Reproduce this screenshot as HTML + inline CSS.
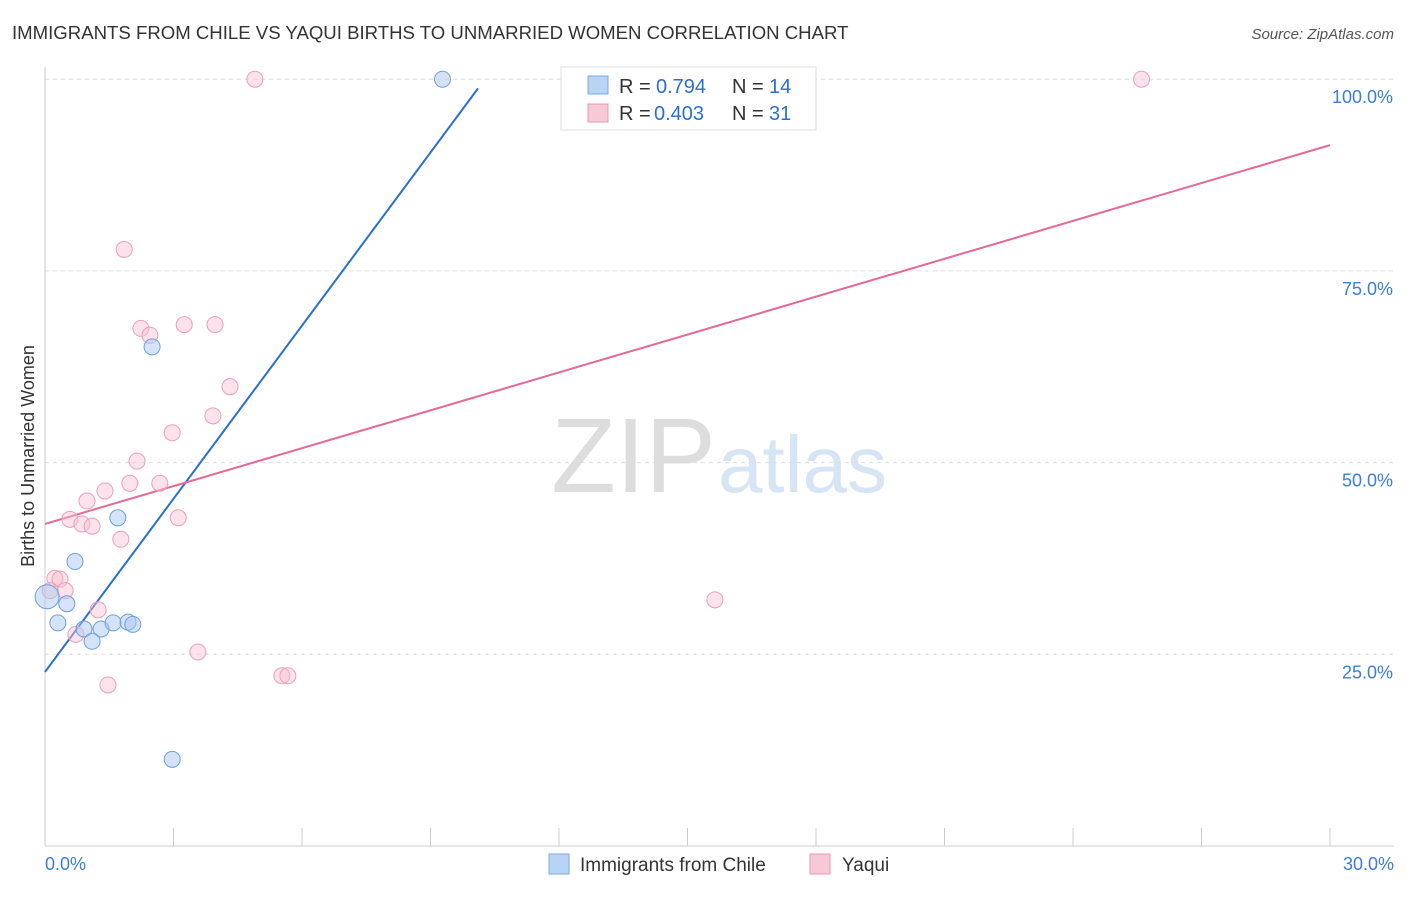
<!DOCTYPE html>
<html><head><meta charset="utf-8"><style>
body{margin:0;background:#fff;font-family:"Liberation Sans",sans-serif;}
svg text{font-family:"Liberation Sans",sans-serif;}
</style></head><body>
<svg id="chart" width="1406" height="892">
<text x="12" y="39" font-size="18.6" fill="#333">IMMIGRANTS FROM CHILE VS YAQUI BIRTHS TO UNMARRIED WOMEN CORRELATION CHART</text>
<text x="1394" y="39" font-size="15" fill="#555" text-anchor="end" font-style="italic">Source: ZipAtlas.com</text>
<text x="716" y="492" font-size="106" fill="#ddd" text-anchor="end" font-family="Liberation Serif">ZIP</text>
<text x="718" y="492" font-size="80" fill="#d6e4f5">atlas</text>
<text transform="translate(34,456) rotate(-90)" font-size="18" fill="#333" text-anchor="middle">Births to Unmarried Women</text>
<g id="grid"></g><g id="lines"></g><g id="pts"></g>
<g>
<rect x="561" y="67" width="255" height="63" fill="#fff" stroke="#ddd"/>
<rect x="588" y="76" width="20" height="18" fill="#b8d4f5" stroke="#7aa8e0"/>
<rect x="588" y="104" width="20" height="18" fill="#f9c8d6" stroke="#e898b0"/>
<text x="619" y="93" font-size="20" fill="#333">R =</text><text x="656" y="93" font-size="20" fill="#2a6fd0">0.794</text>
<text x="732" y="93" font-size="20" fill="#333">N =</text><text x="769" y="93" font-size="20" fill="#2a6fd0">14</text>
<text x="619" y="120" font-size="20" fill="#333">R =</text><text x="654" y="120" font-size="20" fill="#2a6fd0">0.403</text>
<text x="732" y="120" font-size="20" fill="#333">N =</text><text x="769" y="120" font-size="20" fill="#2a6fd0">31</text>
</g>
<g>
<rect x="549" y="854" width="20" height="20" fill="#b8d4f5" stroke="#7aa8e0"/>
<text x="580" y="871" font-size="19" fill="#333">Immigrants from Chile</text>
<rect x="810" y="854" width="20" height="20" fill="#f9c8d6" stroke="#e898b0"/>
<text x="842" y="871" font-size="19" fill="#333">Yaqui</text>
</g>
</svg>
<script>
const yTicks=[25,50,75,100];
const xTickLabels=["0.0%","30.0%"];
const chileX=[9.28,2.5,1.7,0.7,0.51,0.3,0.91,1.31,1.59,1.94,2.05,1.1,2.97,0.05];
const chileY=[100,65.1,42.8,37.1,31.6,29.1,28.3,28.3,29.1,29.2,28.9,26.7,11.3,32.5];
const yaquiX=[4.9,25.6,1.85,2.24,2.45,3.25,3.97,4.32,3.92,2.97,2.15,1.98,2.68,1.4,0.98,0.58,0.86,1.1,1.77,3.11,0.23,0.35,0.47,0.12,1.24,0.72,1.47,3.57,5.53,5.67,15.64];
const yaquiY=[100,100,77.8,67.5,66.6,68.0,68.0,59.9,56.1,53.9,50.2,47.3,47.3,46.3,45.0,42.6,42.0,41.7,40.0,42.8,34.9,34.8,33.3,33.3,30.8,27.6,21.0,25.3,22.2,22.2,32.1];
const chileTrend=[[0,22.7],[10.11,98.8]];
const yaquiTrend=[[0,42.0],[30,91.4]];
const NS="http://www.w3.org/2000/svg";
const X=v=>45+v*1285/30, Y=v=>846-v*7.668;
function mk(t,a,p){const e=document.createElementNS(NS,t);for(const k in a)e.setAttribute(k,a[k]);p.appendChild(e);return e;}
const grid=document.getElementById('grid');
mk('line',{x1:45,y1:67,x2:45,y2:846,stroke:'#ccc'},grid);
mk('line',{x1:45,y1:846,x2:1394,y2:846,stroke:'#ccc'},grid);
yTicks.forEach(t=>{
 const l=mk('line',{x1:45,y1:Y(t),x2:1394,y2:Y(t),stroke:'#ddd','stroke-dasharray':'4,4'},grid);
 
 
 const tx=mk('text',{x:1393,y:Y(t)+24,'font-size':18,fill:'#3b7dd8','text-anchor':'end'},grid);
 tx.textContent=t.toFixed(1)+'%';
 
 
});
for(let i=0;i<=10;i++){const l=mk('line',{x1:X(i*3),y1:828,x2:X(i*3),y2:846,stroke:'#ccc'},grid);
 
 }
const t0=mk('text',{x:45,y:870,'font-size':18,fill:'#3b7dd8'},grid);t0.textContent=xTickLabels[0];


const t1=mk('text',{x:1394,y:870,'font-size':18,fill:'#3b7dd8','text-anchor':'end'},grid);t1.textContent=xTickLabels[1];


const lines=document.getElementById('lines');
const bl=mk('line',{x1:X(chileTrend[0][0]),y1:Y(chileTrend[0][1]),x2:X(chileTrend[1][0]),y2:Y(chileTrend[1][1]),stroke:'#2a6fd0','stroke-width':2},lines);


const pl=mk('line',{x1:X(yaquiTrend[0][0]),y1:Y(yaquiTrend[0][1]),x2:X(yaquiTrend[1][0]),y2:Y(yaquiTrend[1][1]),stroke:'#e56a93','stroke-width':2},lines);


const pts=document.getElementById('pts');
yaquiX.forEach((x,i)=>{const c=mk('circle',{cx:X(x),cy:Y(yaquiY[i]),r:8,fill:'rgba(249,190,208,0.45)',stroke:'#eba0b8'},pts);
 
 });
chileX.forEach((x,i)=>{const c=mk('circle',{cx:X(x),cy:Y(chileY[i]),r:i==13?12:8,fill:'rgba(170,200,240,0.5)',stroke:'#6d9fe0'},pts);
 
 });
</script>
</body></html>
